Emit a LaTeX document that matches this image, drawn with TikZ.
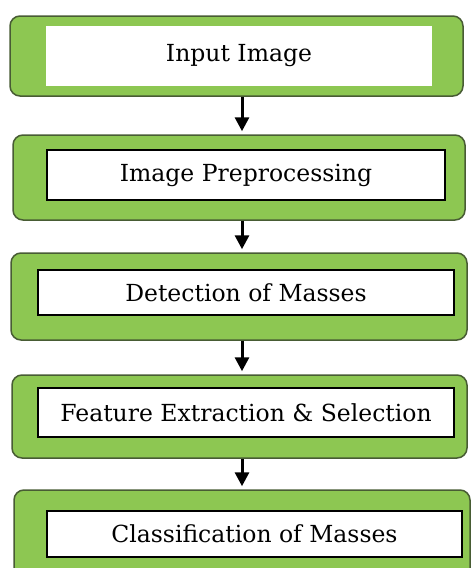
\documentclass[tikz,border=0pt]{standalone}
\usepackage{fontspec}
\newfontfamily\boxfont{DejaVu Serif}
\usetikzlibrary{arrows.meta}
\definecolor{boxgreen}{RGB}{141,199,82}
\definecolor{boxedge}{RGB}{72,92,52}
\begin{document}
\begin{tikzpicture}[x=1pt,y=-1pt,
 outerbox/.style={draw=boxedge, fill=boxgreen, line width=1.5pt, rounded corners=10pt, inner sep=0pt},
 innerbox/.style={draw=black, fill=white, line width=1.3pt, inner sep=0pt, font=\boxfont\fontsize{23.5}{30}\selectfont},
 arr/.style={line width=3pt, -{Triangle[width=14pt,length=14pt]}}]
\useasboundingbox (0,0) rectangle (473,568);
\clip (0,0) rectangle (473,568);
\coordinate (axis) at (242,0);
% outer boxes
\node[outerbox, minimum width=453pt, minimum height=80pt] (o1) at (236.5,56) {};
\node[outerbox, minimum width=452pt, minimum height=85pt] (o2) at (239,177.5) {};
\node[outerbox, minimum width=456pt, minimum height=87pt] (o3) at (239,296.5) {};
\node[outerbox, minimum width=455pt, minimum height=83pt] (o4) at (239.5,416.5) {};
\node[outerbox, minimum width=456pt, minimum height=100pt] (o5) at (242,540) {};
% inner boxes
\node[innerbox, draw=none, minimum width=386pt, minimum height=60pt] (i1) at (239,56) {Input Image};
\node[innerbox, minimum width=398pt, minimum height=50pt] (i2) at (246,175) {Image Preprocessing};
\node[innerbox, minimum width=416pt, minimum height=45pt] (i3) at (246,292.5) {Detection of Masses};
\node[innerbox, minimum width=416pt, minimum height=49pt] (i4) at (246,412.5) {Feature Extraction \& Selection};
\node[innerbox, minimum width=415pt, minimum height=46pt] (i5) at (254.5,534) {Classification of Masses};
% arrows
\draw[arr] (o1.south -| axis) -- ([yshift=3pt]o2.north -| axis);
\draw[arr] (o2.south -| axis) -- ([yshift=3pt]o3.north -| axis);
\draw[arr] (o3.south -| axis) -- ([yshift=3pt]o4.north -| axis);
\draw[arr] (o4.south -| axis) -- ([yshift=3pt]o5.north -| axis);
\end{tikzpicture}
\end{document}
